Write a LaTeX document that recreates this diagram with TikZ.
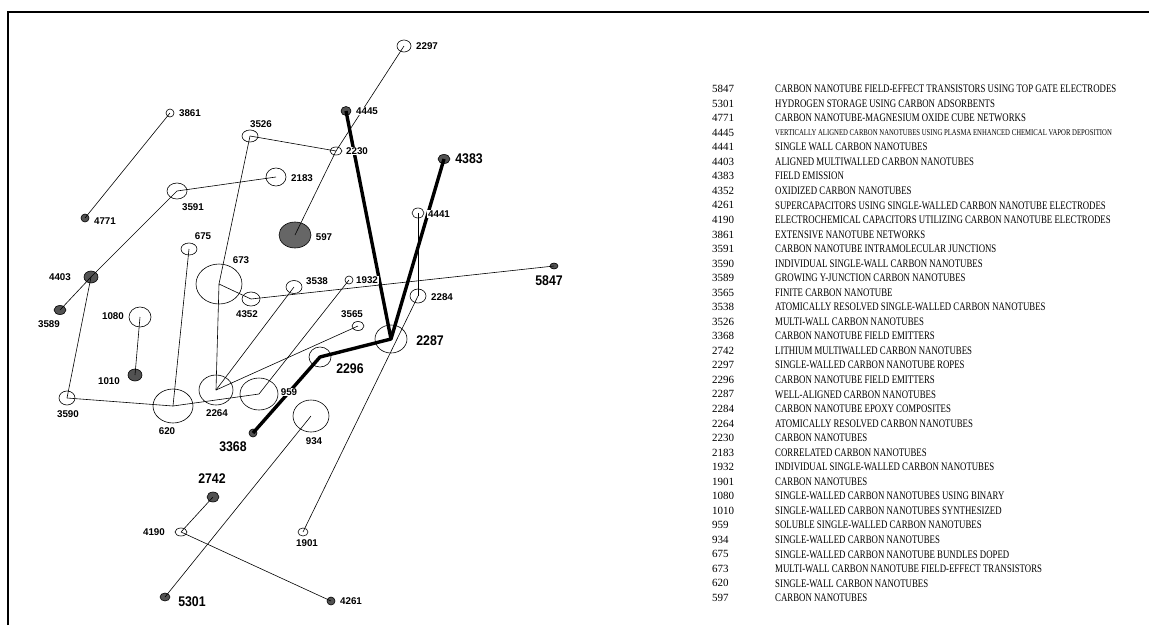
\documentclass[tikz,border=0pt]{standalone}
\usepackage{fontspec}
\setmainfont{Liberation Serif}
\newfontfamily\legendfont{Liberation Serif}[FakeStretch=0.765]
\newfontfamily\lblfont{Liberation Sans}
\newfontfamily\biglblfont{Liberation Sans}[FakeStretch=0.88]
\usetikzlibrary{shapes.geometric}
\newcommand{\smalllbl}{\lblfont\bfseries\fontsize{9.8}{10}\selectfont}
\newcommand{\biglbl}{\biglblfont\bfseries\fontsize{14}{14}\selectfont}
\newcommand{\tinyrow}{\fontsize{8.8}{9}\selectfont}

\begin{document}
\begin{tikzpicture}[x=1pt,y=-1pt,
  tube/.style={draw, ellipse, inner sep=0pt, line width=0.6pt, fill=white},
  hit/.style={tube, fill=black!68},
  lbl/.style={fill=white, inner sep=0.8pt, font=\smalllbl},
  biglbl/.style={fill=white, inner sep=0.8pt, font=\biglbl},
  link/.style={line width=0.6pt},
  hotlink/.style={line width=3.4pt, line join=round},
  entrynum/.style={anchor=west, inner sep=0pt, font=\fontsize{11}{11}\selectfont},
  entry/.style={anchor=west, inner sep=0pt, font=\legendfont\fontsize{11.5}{12}\selectfont}]
\useasboundingbox (0,0) rectangle (1149,625);
% frame
\draw[line width=1.3pt] (8,625) -- (8,12) -- (1149,12);

% keyword nodes
\node[tube, minimum width=14pt, minimum height=12pt] (n2297) at (404,46) {};
\node[hit,  minimum width=10pt, minimum height=9pt]  (n4445) at (346,111) {};
\node[tube, minimum width=8pt,  minimum height=8pt]  (n3861) at (170,113) {};
\node[tube, minimum width=16pt, minimum height=12pt] (n3526) at (250,136) {};
\node[tube, minimum width=12pt, minimum height=8pt]  (n2230) at (336,151) {};
\node[hit,  minimum width=12pt, minimum height=9pt]  (n4383) at (444,159) {};
\node[tube, minimum width=20pt, minimum height=18pt] (n2183) at (276,177) {};
\node[tube, minimum width=20pt, minimum height=16pt] (n3591) at (177,191) {};
\node[tube, minimum width=12pt, minimum height=10pt] (n4441) at (418,213) {};
\node[hit,  minimum width=8pt,  minimum height=8pt]  (n4771) at (85,218) {};
\node[hit,  minimum width=32pt, minimum height=26pt, fill=black!60] (n597) at (295,235) {};
\node[tube, minimum width=16pt, minimum height=12pt] (n675)  at (189,249) {};
\node[hit,  minimum width=8pt,  minimum height=6pt]  (n5847) at (554,266) {};
\node[tube, minimum width=46pt, minimum height=40pt] (n673)  at (219,284) {};
\node[hit,  minimum width=14pt, minimum height=12pt] (n4403) at (91,277) {};
\node[tube, minimum width=16pt, minimum height=13pt] (n3538) at (294,287) {};
\node[tube, minimum width=8pt,  minimum height=8pt]  (n1932) at (349,280) {};
\node[tube, minimum width=18pt, minimum height=14pt] (n4352) at (251,299) {};
\node[tube, minimum width=16pt, minimum height=14pt] (n2284) at (418,296) {};
\node[hit,  minimum width=12pt, minimum height=9pt]  (n3589) at (60,310) {};
\node[tube, minimum width=22pt, minimum height=20pt] (n1080) at (140,317) {};
\node[tube, minimum width=12pt, minimum height=9pt]  (n3565) at (358,326) {};
\node[tube, minimum width=32pt, minimum height=28pt] (n2287) at (391,339) {};
\node[tube, minimum width=22pt, minimum height=20pt] (n2296) at (320,357) {};
\node[hit,  minimum width=14pt, minimum height=12pt] (n1010) at (135,375) {};
\node[tube, minimum width=34pt, minimum height=30pt] (n2264) at (216,390) {};
\node[tube, minimum width=38pt, minimum height=32pt] (n959)  at (259,394) {};
\node[tube, minimum width=16pt, minimum height=14pt] (n3590) at (67,398) {};
\node[tube, minimum width=40pt, minimum height=34pt] (n620)  at (173,406) {};
\node[tube, minimum width=36pt, minimum height=32pt] (n934)  at (311,416) {};
\node[hit,  minimum width=8pt,  minimum height=8pt]  (n3368) at (253,433) {};
\node[hit,  minimum width=12pt, minimum height=10pt] (n2742) at (213,497) {};
\node[tube, minimum width=12pt, minimum height=8pt]  (n4190) at (181,532) {};
\node[tube, minimum width=10pt, minimum height=8pt]  (n1901) at (303,532) {};
\node[hit,  minimum width=10pt, minimum height=8pt]  (n5301) at (165,597) {};
\node[hit,  minimum width=8pt,  minimum height=8pt]  (n4261) at (331,601) {};

% thin links
\draw[link] (n3861.center) -- (n4771.center);
\draw[link] (n3526.center) -- (n2230.center);
\draw[link] (n3526.center) -- (n673.center);
\draw[link] (n673.center) -- (n2264.center);
\draw[link] (n673.center) -- (n4352.center);
\draw[link] (n4352.center) -- (n5847.center);
\draw[link] (n3591.center) -- (n2183.center);
\draw[link] (n3591.center) -- (n4403.center);
\draw[link] (n4403.center) -- (n3589.center);
\draw[link] (n4403.center) -- (n3590.center);
\draw[link] (n3590.center) -- (n620.center);
\draw[link] (n620.center) -- (n675.center);
\draw[link] (n620.center) -- (n959.center);
\draw[link] (n959.center) -- (n1932.center);
\draw[link] (n2264.center) -- (n3538.center);
\draw[link] (n2264.center) -- (n3565.center);
\draw[link] (n2230.center) -- (n597.center);
\draw[link] (n2230.center) -- (n2297.center);
\draw[link] (n1080.center) -- (n1010.center);
\draw[link] (n934.center) -- (n5301.center);
\draw[link] (n4190.center) -- (n2742.center);
\draw[link] (n4190.center) -- (n4261.center);
\draw[link] (n1901.center) -- (n2284.center);
\draw[link] (n2284.center) -- (n4441.center);

% thick links
\draw[hotlink] (n4445.center) -- (n2287.center) -- (n4383.center);
\draw[hotlink] (n2287.center) -- (n2296.center) -- (n3368.center);

% labels
\node[lbl] (l2297) at (427,46) {2297};
\node[lbl] (l4445) at (367,111) {4445};
\node[lbl] (l3861) at (190,113) {3861};
\node[lbl] (l3526) at (261,124) {3526};
\node[lbl] (l2230) at (357,151) {2230};
\node[biglbl] (l4383) at (469,159) {4383};
\node[lbl] (l2183) at (302,178) {2183};
\node[lbl] (l3591) at (193,207) {3591};
\node[lbl] (l4441) at (439,214) {4441};
\node[lbl] (l4771) at (105,221) {4771};
\node[lbl] (l597)  at (324,237) {597};
\node[lbl] (l675)  at (203,236) {675};
\node[biglbl] (l5847) at (549,281) {5847};
\node[lbl] (l673)  at (241,260) {673};
\node[lbl] (l4403) at (60,277) {4403};
\node[lbl] (l3538) at (317,281) {3538};
\node[lbl] (l1932) at (367,280) {1932};
\node[lbl] (l4352) at (247,314) {4352};
\node[lbl] (l2284) at (442,297) {2284};
\node[lbl] (l3589) at (49,324) {3589};
\node[lbl] (l1080) at (113,316) {1080};
\node[lbl] (l3565) at (352,314) {3565};
\node[biglbl] (l2287) at (430,341) {2287};
\node[biglbl] (l2296) at (350,369) {2296};
\node[lbl] (l1010) at (109,381) {1010};
\node[lbl] (l2264) at (217,413) {2264};
\node[lbl] (l959)  at (289,392) {959};
\node[lbl] (l3590) at (68,414) {3590};
\node[lbl] (l620)  at (167,431) {620};
\node[lbl] (l934)  at (314,441) {934};
\node[biglbl] (l3368) at (233,447) {3368};
\node[biglbl] (l2742) at (212,479) {2742};
\node[lbl] (l4190) at (154,532) {4190};
\node[lbl] (l1901) at (307,543) {1901};
\node[biglbl] (l5301) at (192,602) {5301};
\node[lbl] (l4261) at (351,601) {4261};

% legend
\foreach \num/\txt [count=\i from 0] in {
  5847/{CARBON NANOTUBE FIELD-EFFECT TRANSISTORS USING TOP GATE ELECTRODES},
  5301/{HYDROGEN STORAGE USING CARBON ADSORBENTS},
  4771/{CARBON NANOTUBE-MAGNESIUM OXIDE CUBE NETWORKS},
  4445/{\tinyrow VERTICALLY ALIGNED CARBON NANOTUBES USING PLASMA ENHANCED CHEMICAL VAPOR DEPOSITION},
  4441/{SINGLE WALL CARBON NANOTUBES},
  4403/{ALIGNED MULTIWALLED CARBON NANOTUBES},
  4383/{FIELD EMISSION},
  4352/{OXIDIZED CARBON NANOTUBES},
  4261/{SUPERCAPACITORS USING SINGLE-WALLED CARBON NANOTUBE ELECTRODES},
  4190/{ELECTROCHEMICAL CAPACITORS UTILIZING CARBON NANOTUBE ELECTRODES},
  3861/{EXTENSIVE NANOTUBE NETWORKS},
  3591/{CARBON NANOTUBE INTRAMOLECULAR JUNCTIONS},
  3590/{INDIVIDUAL SINGLE-WALL CARBON NANOTUBES},
  3589/{GROWING Y-JUNCTION CARBON NANOTUBES},
  3565/{FINITE CARBON NANOTUBE},
  3538/{ATOMICALLY RESOLVED SINGLE-WALLED CARBON NANOTUBES},
  3526/{MULTI-WALL CARBON NANOTUBES},
  3368/{CARBON NANOTUBE FIELD EMITTERS},
  2742/{LITHIUM MULTIWALLED CARBON NANOTUBES},
  2297/{SINGLE-WALLED CARBON NANOTUBE ROPES},
  2296/{CARBON NANOTUBE FIELD EMITTERS},
  2287/{WELL-ALIGNED CARBON NANOTUBES},
  2284/{CARBON NANOTUBE EPOXY COMPOSITES},
  2264/{ATOMICALLY RESOLVED CARBON NANOTUBES},
  2230/{CARBON NANOTUBES},
  2183/{CORRELATED CARBON NANOTUBES},
  1932/{INDIVIDUAL SINGLE-WALLED CARBON NANOTUBES},
  1901/{CARBON NANOTUBES},
  1080/{SINGLE-WALLED CARBON NANOTUBES USING BINARY},
  1010/{SINGLE-WALLED CARBON NANOTUBES SYNTHESIZED},
  959/{SOLUBLE SINGLE-WALLED CARBON NANOTUBES},
  934/{SINGLE-WALLED CARBON NANOTUBES},
  675/{SINGLE-WALLED CARBON NANOTUBE BUNDLES DOPED},
  673/{MULTI-WALL CARBON NANOTUBE FIELD-EFFECT TRANSISTORS},
  620/{SINGLE-WALL CARBON NANOTUBES},
  597/{CARBON NANOTUBES}} {
  \node[entrynum] (k\num) at (712,{89+14.54*\i}) {\num};
  \node[entry] (t\num) at (775,{89+14.54*\i}) {\txt};
}
\end{tikzpicture}
\end{document}
